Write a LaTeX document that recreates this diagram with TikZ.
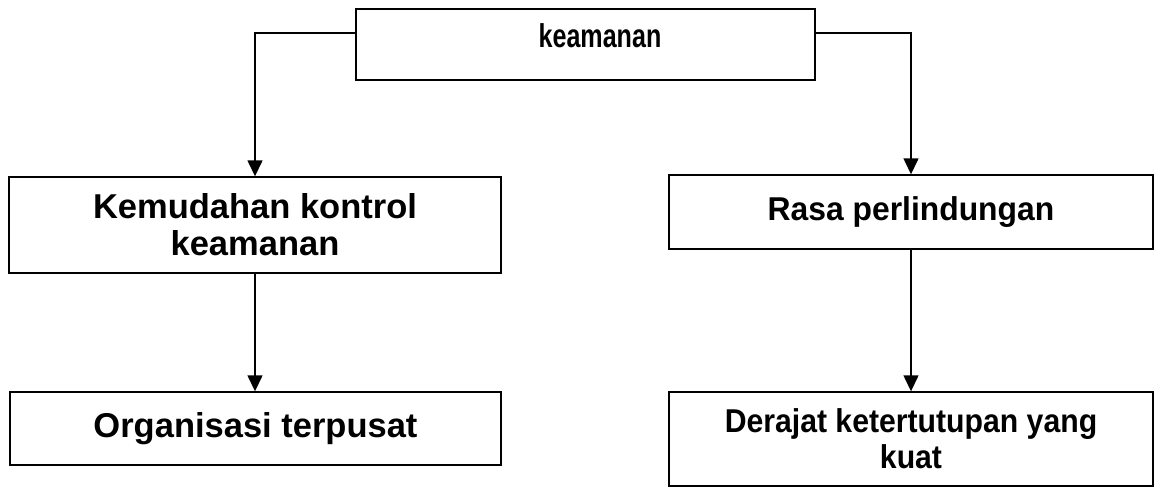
\documentclass[tikz,border=0pt]{standalone}
\usepackage{fontspec}
\usepackage{graphicx}
\setmainfont{Liberation Sans}
\usetikzlibrary{arrows.meta}
\tikzset{
  box/.style={draw=black, line width=1.4pt, inner sep=0pt, align=center,
    font=\fontsize{34.5}{37}\selectfont\bfseries},
  rbox/.style={box, font=\fontsize{33}{36}\selectfont\bfseries},
  txt/.style={inner sep=0pt, anchor=base, font=\fontsize{33}{37}\selectfont\bfseries},
  conn/.style={draw=black, line width=1.4pt, -{Triangle[width=15pt,length=16pt]}}
}
\begin{document}
\begin{tikzpicture}[x=1pt,y=-1pt]
\useasboundingbox (0,0) rectangle (1160,488);
\node[box, minimum width=459pt, minimum height=71pt] (k) at (585.5,44.5) {};
\node[txt] (kt) at (600,47) {\scalebox{0.76}[1]{keamanan}};
\node[box, minimum width=492pt, minimum height=96pt] (m1) at (255,225) {Kemudahan kontrol\\keamanan};
\node[rbox, minimum width=484pt, minimum height=74pt] (m2) at (911,212) {\scalebox{0.965}[1]{Rasa perlindungan}};
\node[box, minimum width=491pt, minimum height=73pt] (b1) at (255.5,428.5) {Organisasi terpusat};
\node[rbox, minimum width=484pt, minimum height=94pt] (b2) at (911,439) {\scalebox{0.915}[1]{Derajat ketertutupan yang}\\\scalebox{0.915}[1]{kuat}};
\coordinate (kl) at ([yshift=11.5pt]k.west);
\coordinate (kr) at ([yshift=11.5pt]k.east);
\draw[conn] (kl) -| (m1.north);
\draw[conn] (kr) -| (m2.north);
\draw[conn] (m1.south) -- (b1.north -| m1.south);
\draw[conn] (m2.south) -- (b2.north -| m2.south);
\end{tikzpicture}
\end{document}
